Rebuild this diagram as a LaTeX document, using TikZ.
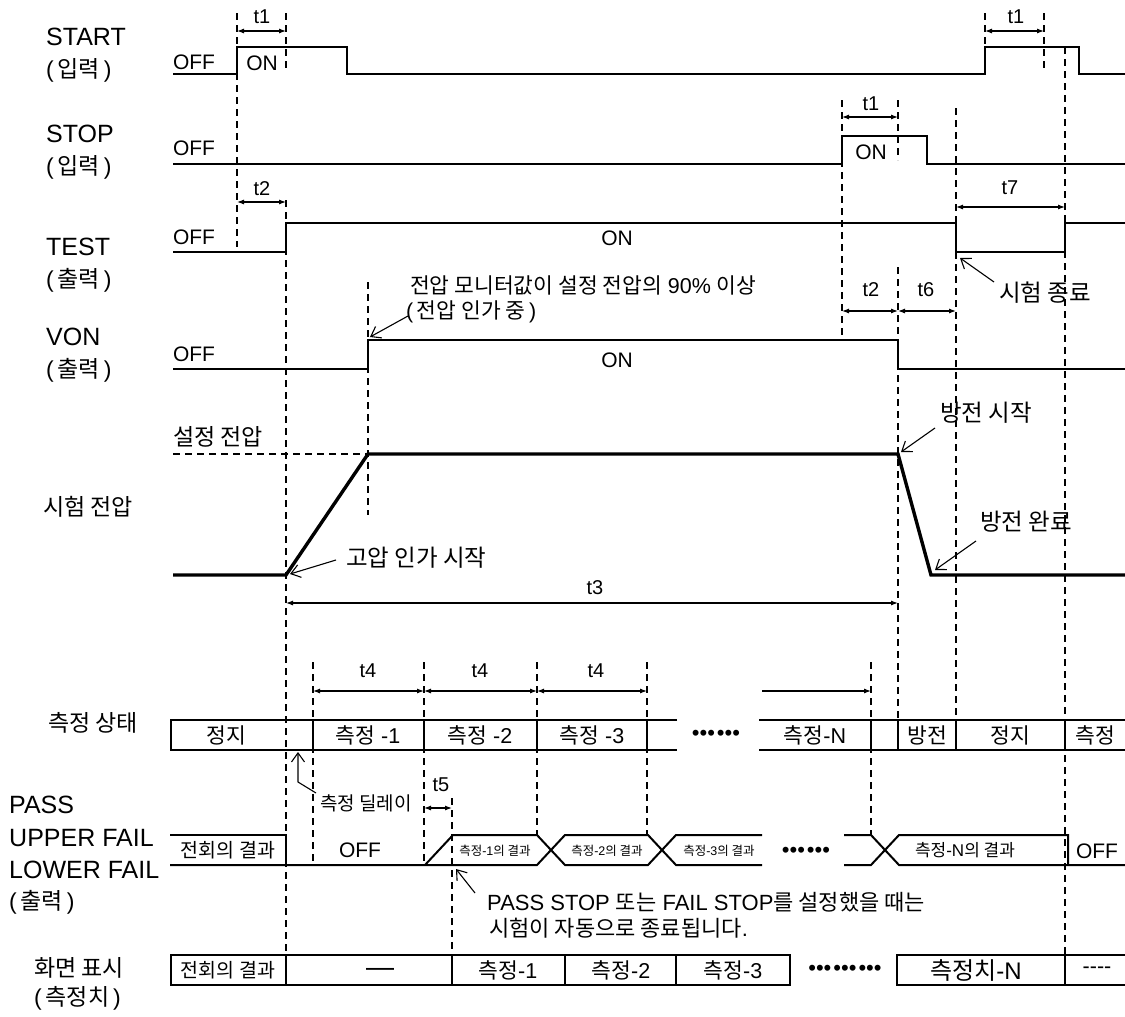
\documentclass[tikz,border=0pt]{standalone}
\usepackage{fontspec}
\setmainfont{Liberation Sans}
\newfontfamily\krfont{Noto Sans CJK KR}
\usetikzlibrary{arrows.meta}
\newcommand\KR[1]{{\krfont #1}}
\begin{document}
\begin{tikzpicture}[x=1pt,y=-1pt,
  sig/.style={line width=2.2pt},
  volt/.style={line width=3.4pt},
  guide/.style={line width=1.2pt, dash pattern=on 7pt off 5pt},
  dim/.style={line width=1.1pt, {Latex[length=7pt,width=5pt]}-{Latex[length=7pt,width=5pt]}},
  dimr/.style={line width=1.1pt, -{Latex[length=7pt,width=5pt]}},
  note/.style={line width=1.1pt, -{Straight Barb[length=9pt,width=13pt,line width=1.1pt]}},
  box/.style={line width=2pt},
  big/.style={font=\fontsize{25}{30}\selectfont, anchor=west, inner sep=0pt},
  par/.style={font=\fontsize{23}{28}\selectfont, anchor=west, inner sep=0pt},
  kl/.style={font=\fontsize{23}{27}\selectfont\krfont, anchor=west, inner sep=0pt},
  lvl/.style={font=\fontsize{21}{25}\selectfont, inner sep=0pt},
  tl/.style={font=\fontsize{20}{24}\selectfont, inner sep=0pt},
  ann/.style={font=\fontsize{21.5}{25}\selectfont, anchor=west, inner sep=0pt},
  annk/.style={font=\fontsize{23.5}{27}\selectfont\krfont, anchor=west, inner sep=0pt},
  cell/.style={font=\fontsize{21.5}{25}\selectfont, inner sep=0pt},
  dots/.style={font=\fontsize{22}{25}\selectfont, inner sep=0pt}
]
\useasboundingbox (0,0) rectangle (1125,1017);

% ---------- dashed guide lines ----------
\foreach \x/\a/\b in {237/13/247, 286/13/72, 286/200/955, 368/282/515,
  842/100/335, 898/100/160, 898/267/719, 956/108/719, 985/13/47,
  1044/13/72, 1065/47/955, 313/662/865, 424/662/865, 537/662/835,
  647/662/835, 871/662/835, 452/798/955}
  \draw[guide] (\x,\a) -- (\x,\b);
\draw[guide] (173,454) -- (368,454);

% ---------- row labels ----------
\node[big] (lstart) at (46,37) {START};
\node[par] (lstarti) at (46,70) {(\,\KR{입력}\,)};
\node[big] (lstop) at (46,134) {STOP};
\node[par] (lstopi) at (46,167) {(\,\KR{입력}\,)};
\node[big] (ltest) at (46,247) {TEST};
\node[par] (ltesto) at (46,280) {(\,\KR{출력}\,)};
\node[big] (lvon) at (46,337) {VON};
\node[par] (lvono) at (46,370) {(\,\KR{출력}\,)};
\node[kl] (lset) at (173,437) {설정 전압};
\node[kl] (lvolt) at (43,507) {시험 전압};
\node[kl] (lmeas) at (48,723) {측정 상태};
\node[big] (lpass) at (9,805) {PASS};
\node[big] (lupper) at (9,838) {UPPER FAIL};
\node[big] (llower) at (9,870) {LOWER FAIL};
\node[par] (lpfo) at (9,902) {(\,\KR{출력}\,)};
\node[kl] (ldisp) at (34,968) {화면 표시};
\node[par] (ldispv) at (34,998) {(\,\KR{측정치}\,)};

% ---------- waveforms ----------
\draw[sig] (173,74) -| (237,47) -| (347,74) -| (985,47) -| (1079,74) -- (1125,74);
\draw[sig] (173,164) -| (842,136) -| (927,164) -- (1125,164);
\draw[sig] (173,252) -| (286,223) -| (956,252) -| (1065,223) -- (1125,223);
\draw[sig] (173,369) -| (368,340) -| (898,369) -- (1125,369);
\draw[volt] (173,575) -- (286,575) -- (368,454) -- (898,454) -- (931,575) -- (1125,575);

\node[lvl] (offa) at (194,62) {OFF};
\node[lvl] (ona) at (262,63) {ON};
\node[lvl] (offb) at (194,148) {OFF};
\node[lvl] (onb) at (871,152) {ON};
\node[lvl] (offc) at (194,237) {OFF};
\node[lvl] (onc) at (617,238) {ON};
\node[lvl] (offd) at (194,354) {OFF};
\node[lvl] (ond) at (617,360) {ON};

% ---------- time dimensions ----------
\draw[dim] (237,31) -- (286,31);   \node[tl] (t1a) at (262,17) {t1};
\draw[dim] (237,202) -- (286,202); \node[tl] (t2a) at (262,189) {t2};
\draw[dim] (842,117) -- (898,117); \node[tl] (t1b) at (871,104) {t1};
\draw[dim] (985,31) -- (1044,31);  \node[tl] (t1c) at (1016,17) {t1};
\draw[dim] (956,207) -- (1065,207);\node[tl] (t7) at (1010,188) {t7};
\draw[dim] (842,311) -- (898,311); \node[tl] (t2b) at (871,290) {t2};
\draw[dim] (898,311) -- (956,311); \node[tl] (t6) at (926,290) {t6};
\draw[dim] (286,603) -- (898,603); \node[tl] (t3) at (595,588) {t3};
\draw[dim] (313,691) -- (424,691); \node[tl] (t4a) at (368,671) {t4};
\draw[dim] (424,691) -- (537,691); \node[tl] (t4b) at (480,671) {t4};
\draw[dim] (537,691) -- (647,691); \node[tl] (t4c) at (596,671) {t4};
\draw[dimr] (762,691) -- (871,691);
\draw[dim] (424,808) -- (452,808); \node[tl] (t5) at (441,785) {t5};

% ---------- annotations ----------
\node[ann] (vmon1) at (410,285) {\KR{전압 모니터값이 설정 전압의} 90\% \KR{이상}};
\node[ann] (vmon2) at (406,312) {(\,\KR{전압 인가 중}\,)};
\coordinate (vmonT) at (370,337);
\draw[note] ([shift={(2,4)}]vmon2.west) -- (vmonT);

\node[annk] (hvst) at (346,558) {고압 인가 시작};
\coordinate (hvT) at (290,574);
\draw[note] ([shift={(-10,2)}]hvst.west) -- (hvT);

\node[annk] (dcst) at (940,413) {방전 시작};
\coordinate (dcsT) at (901,452);
\draw[note] ([shift={(-5,15)}]dcst.west) -- (dcsT);

\node[annk] (dcend) at (980,522) {방전 완료};
\coordinate (dceT) at (935,570);
\draw[note] ([shift={(-4,19)}]dcend.west) -- (dceT);

\node[annk] (tend) at (999,293) {시험 종료};
\coordinate (tendT) at (960,258);
\draw[note] ([shift={(-5,-11)}]tend.west) -- (tendT);

\node[annk, font=\fontsize{19}{22}\selectfont\krfont] (mdly) at (320,803) {측정 딜레이};
\coordinate (mdlyT) at (298,752);
\draw[note] ([shift={(-4,-10)}]mdly.west) -- (298,782) -- (mdlyT);

\node[ann, font=\fontsize{22}{26}\selectfont] (pst1) at (487,902) {PASS STOP \KR{또는} FAIL STOP\KR{를 설정했을 때는}};
\node[ann, font=\fontsize{22}{26}\selectfont] (pst2) at (489,928) {\KR{시험이 자동으로 종료됩니다}.};
\coordinate (pstT) at (456,869);
\draw[note] ([shift={(-12,-9)}]pst1.west) -- (pstT);

% ---------- measurement state row ----------
\draw[box] (677,720) -- (171,720) -- (171,750) -- (677,750);
\foreach \x in {313,424,537,647} \draw[box] (\x,720) -- (\x,750);
\draw[box] (759,720) -- (1125,720);
\draw[box] (759,750) -- (1125,750);
\foreach \x in {871,898,956,1065} \draw[box] (\x,720) -- (\x,750);
\node[cell] (ms0) at (226,735) {\KR{정지}};
\node[cell] (ms1) at (368,735) {\KR{측정} -1};
\node[cell] (ms2) at (480,735) {\KR{측정} -2};
\node[cell] (ms3) at (592,735) {\KR{측정} -3};
\node[dots] (msd) at (716,735) {•••\hspace{2pt}•••};
\node[cell] (msn) at (815,735) {\KR{측정}-N};
\node[cell] (msdc) at (927,735) {\KR{방전}};
\node[cell] (msst) at (1010,735) {\KR{정지}};
\node[cell] (msm) at (1095,735) {\KR{측정}};

% ---------- PASS / FAIL row ----------
\draw[box] (170,835) -- (286,835) -- (286,865);
\draw[box] (170,865) -- (537,865) -- (565,835) -- (648,835) -- (676,865) -- (762,865);
\draw[box] (425,865) -- (453,835) -- (537,835) -- (565,865) -- (648,865) -- (676,835) -- (762,835);
\draw[box] (844,835) -- (871,835) -- (899,865) -- (1125,865);
\draw[box] (844,865) -- (871,865) -- (899,835) -- (1068,835) -- (1068,865);
\node[cell, font=\fontsize{19.5}{22}\selectfont\krfont] (pf0) at (228,850) {전회의 결과};
\node[lvl] (pfoff) at (360,850) {OFF};
\node[cell, font=\fontsize{12.5}{15}\selectfont] (pf1) at (495,851) {\KR{측정}-1\KR{의 결과}};
\node[cell, font=\fontsize{12.5}{15}\selectfont] (pf2) at (607,851) {\KR{측정}-2\KR{의 결과}};
\node[cell, font=\fontsize{12.5}{15}\selectfont] (pf3) at (719,851) {\KR{측정}-3\KR{의 결과}};
\node[dots] (pfd) at (806,852) {•••\hspace{2pt}•••};
\node[cell, font=\fontsize{17}{20}\selectfont] (pfn) at (965,850) {\KR{측정}-N\KR{의 결과}};
\node[lvl] (pfoff2) at (1097,851) {OFF};

% ---------- display row ----------
\draw[box] (171,955) rectangle (790,985);
\foreach \x in {286,452,565,676} \draw[box] (\x,955) -- (\x,985);
\draw[box] (1125,955) -- (897,955) -- (897,985) -- (1125,985);
\draw[box] (1065,955) -- (1065,985);
\node[cell, font=\fontsize{19.5}{23}\selectfont\krfont] (dp0) at (228,970) {전회의 결과};
\node[cell, font=\fontsize{28}{30}\selectfont] (dp1) at (380,972) {—};
\node[cell, font=\fontsize{21.5}{25}\selectfont] (dp2) at (508,970) {\KR{측정}-1};
\node[cell, font=\fontsize{21.5}{25}\selectfont] (dp3) at (621,970) {\KR{측정}-2};
\node[cell, font=\fontsize{21.5}{25}\selectfont] (dp4) at (733,970) {\KR{측정}-3};
\node[dots] (dpd) at (845,970) {•••\hspace{2pt}•••\hspace{2pt}•••};
\node[cell, font=\fontsize{24}{27}\selectfont] (dpn) at (976,970) {\KR{측정치}-N};
\node[cell] (dpoff) at (1097,970) {-{}-{}-{}-};
\end{tikzpicture}
\end{document}
